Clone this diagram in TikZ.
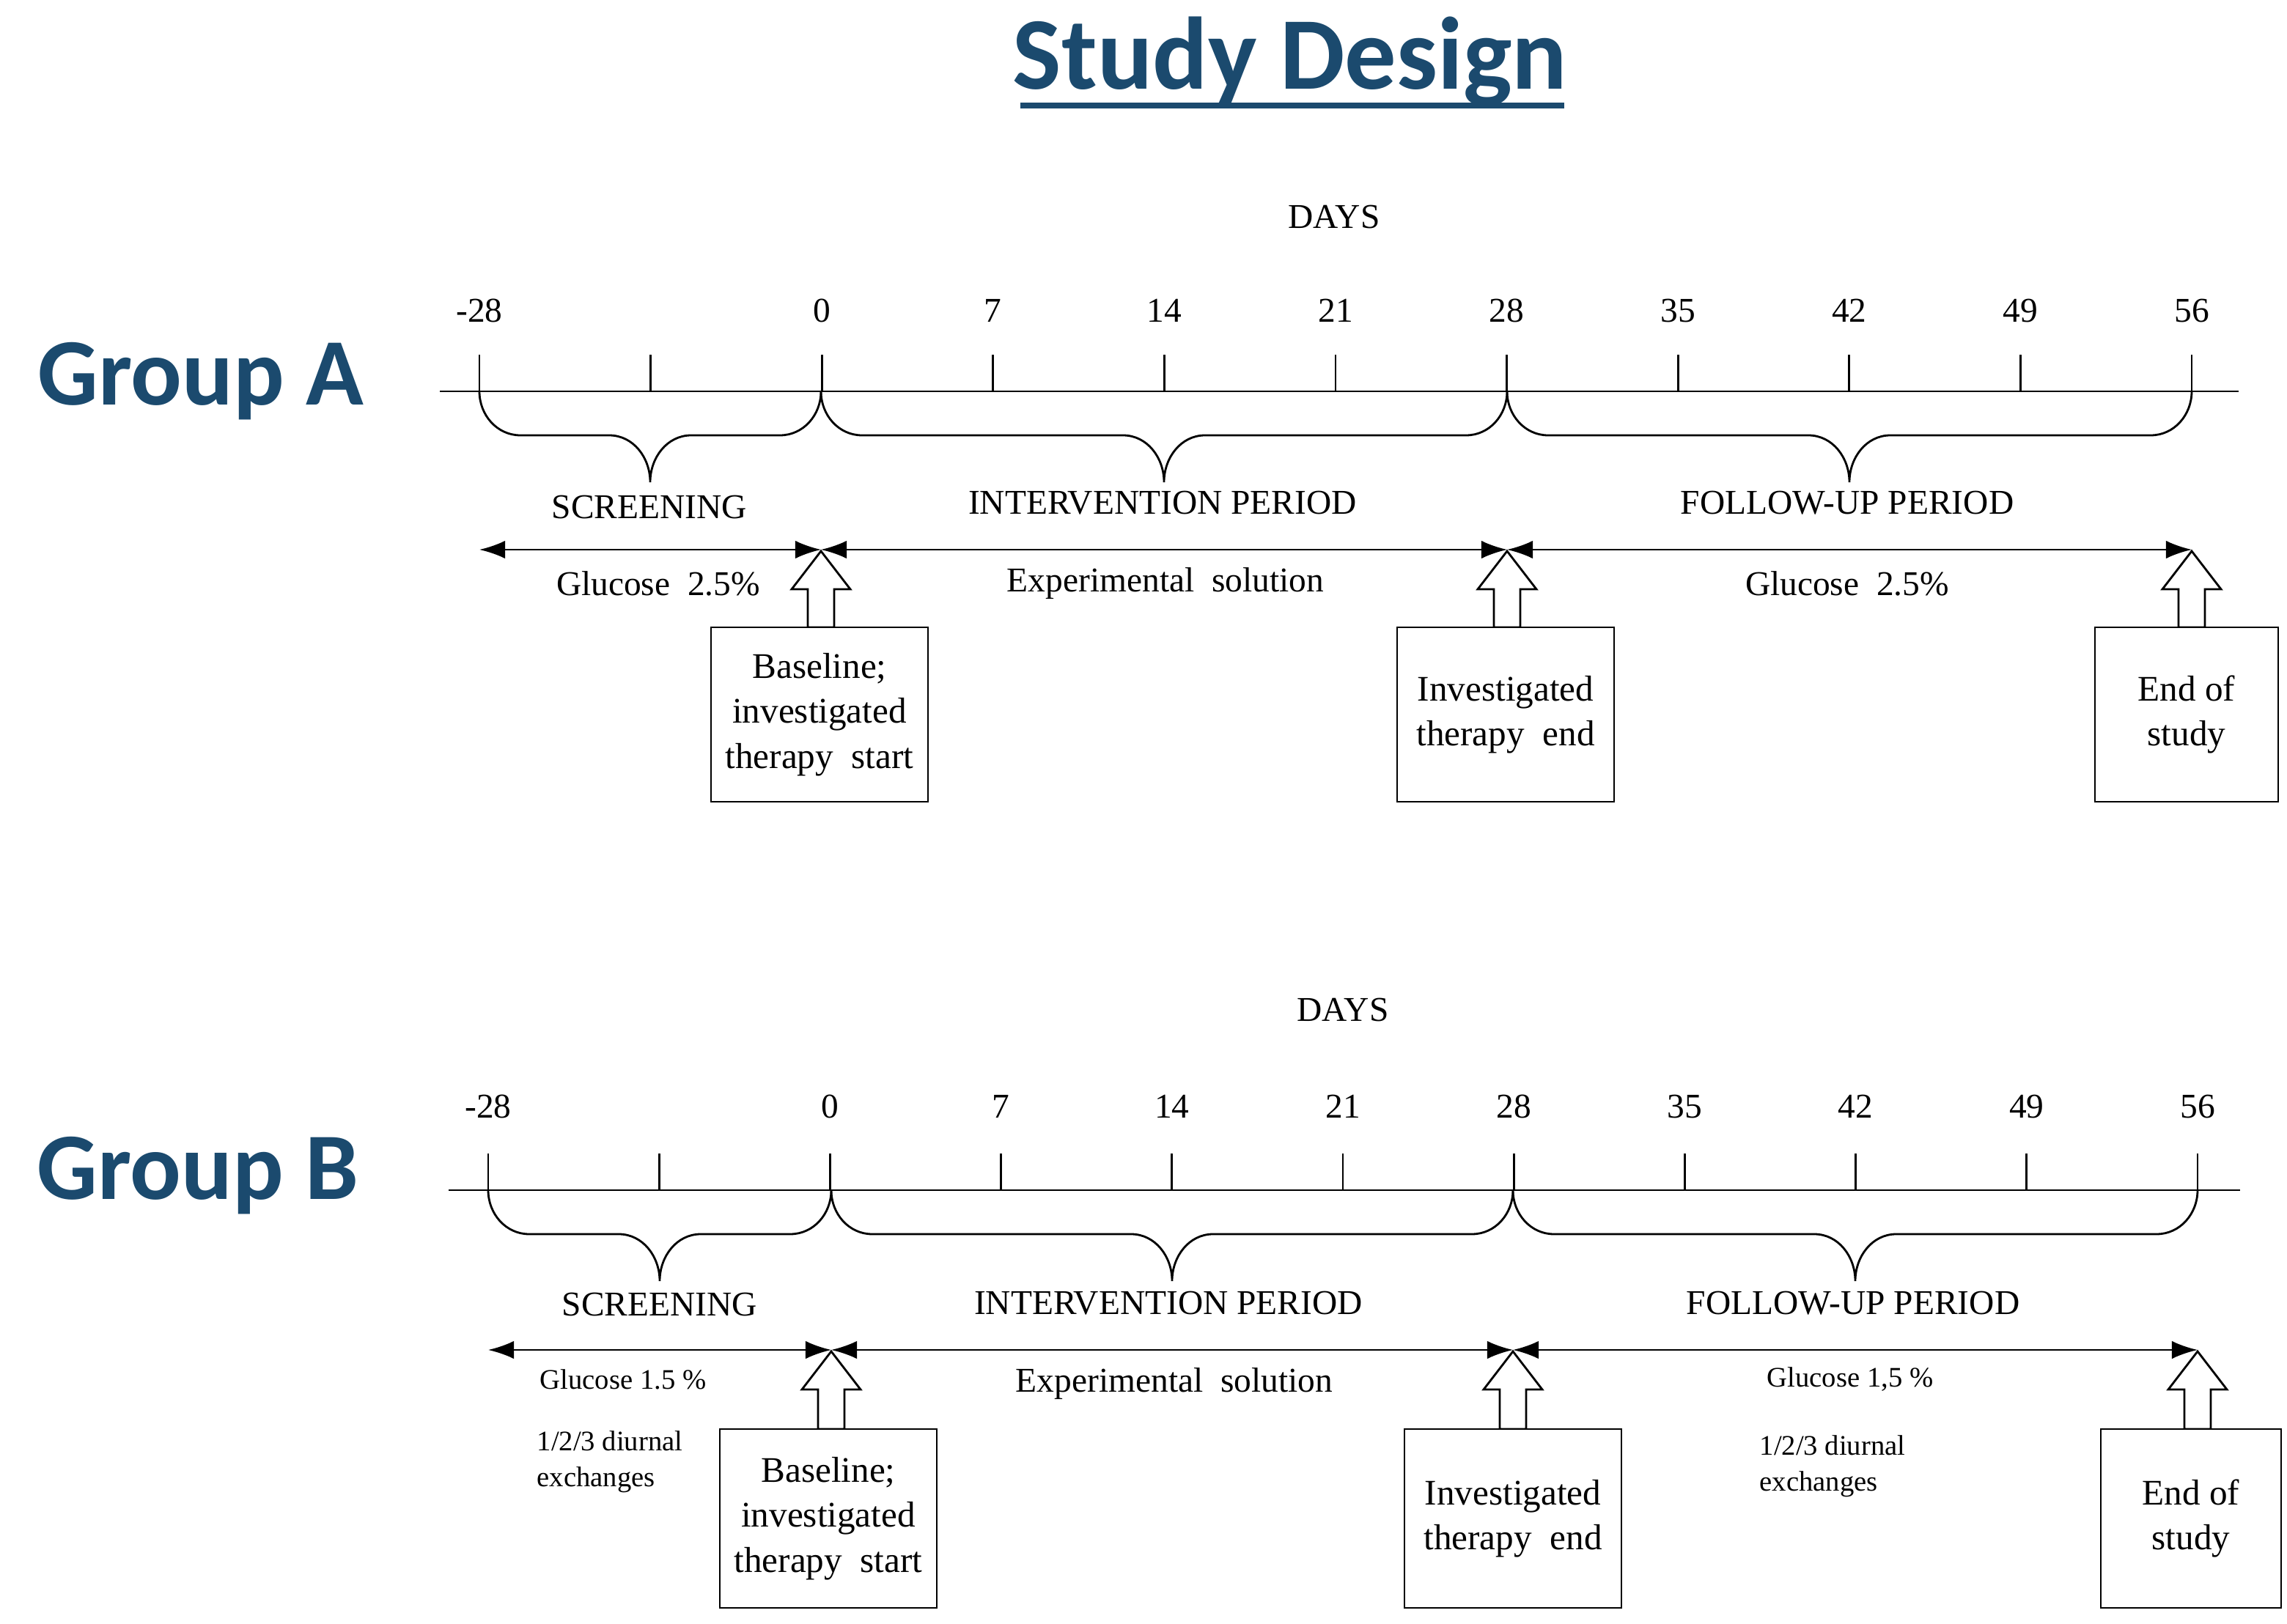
\documentclass[tikz,border=0pt]{standalone}
\usepackage{fontspec}
\setmainfont{Liberation Serif}
\newfontfamily\titlefont{Carlito}
\usetikzlibrary{arrows.meta}
\definecolor{titleblue}{HTML}{1B4A6E}
\tikzset{
  lbl/.style={font=\fontsize{13.5}{16}\selectfont, inner sep=0pt},
  small/.style={font=\fontsize{11}{13}\selectfont, inner sep=0pt},
  box/.style={draw, line width=0.8pt, fill=white, font=\fontsize{14}{17.5}\selectfont, align=center},
  dbl/.style={line width=0.8pt, {Latex[length=10pt,width=7pt]}-{Latex[length=10pt,width=7pt]}},
  hollow/.style={draw, line width=0.8pt, fill=white},
  grp/.style={font=\titlefont\bfseries\fontsize{37}{40}\selectfont, text=titleblue, inner sep=0pt},
  thin/.style={line width=0.8pt}
}
\newcommand{\mybrace}[3]{% x1, x2, yaxis
  \pgfmathsetmacro{\xm}{(#1+#2)/2}
  \draw[thin] (#1,#3) to[out=-90,in=180] (#1+28,#3+30) -- (\xm-28,#3+30)
    to[out=0,in=90] (\xm,#3+62) to[out=90,in=180] (\xm+28,#3+30)
    -- (#2-28,#3+30) to[out=0,in=-90] (#2,#3);}
\newcommand{\uparrowbox}[3]{% x, tip y, base y
  \draw[hollow] (#1,#2) -- (#1-20,#2+26) -- (#1-9,#2+26) -- (#1-9,#3) -- (#1+9,#3) -- (#1+9,#2+26) -- (#1+20,#2+26) -- cycle;}
\begin{document}
\begin{tikzpicture}[x=0.02cm,y=-0.02cm]
\useasboundingbox (0,0) rectangle (1560,1108);
\node[font=\titlefont\bfseries\fontsize{40}{44}\selectfont, text=titleblue, inner sep=0pt] (title) at (880,42) {Study Design};
\draw[titleblue, line width=2.2pt] (696,72) -- (1067,72);

% ---------- Group A ----------
\node[grp] (ga) at (137,260) {Group A};
\node[lbl] (daysA) at (910,148) {DAYS};
\draw[thin] (300,267) -- (1527,267);
\foreach \i/\t in {0/-28,1/,2/0,3/7,4/14,5/21,6/28,7/35,8/42,9/49,10/56}{
  \coordinate (a\i) at (327+116.8*\i,267);
  \draw[thin] (a\i) -- ++(0,-25);
  \node[lbl] at (327+116.8*\i,212) {\t};
}
\mybrace{327}{560}{267}
\mybrace{560}{1028}{267}
\mybrace{1028}{1495}{267}
\node[lbl] (scrA) at (443,346) {SCREENING};
\node[lbl] (intA) at (793,343) {INTERVENTION PERIOD};
\node[lbl] (fupA) at (1260,343) {FOLLOW-UP PERIOD};
\coordinate (ea0) at (327,375); \coordinate (ea1) at (560,375);
\coordinate (ea2) at (1028,375); \coordinate (ea3) at (1495,375);
\draw[dbl] (ea0) -- (ea1);
\draw[dbl] (ea1) -- (ea2);
\draw[dbl] (ea2) -- (ea3);
\node[lbl] at (449,398) {Glucose\ \ 2.5\%};
\node[lbl] at (795,398) {Experimental\ \ solution};
\node[lbl] at (1260,398) {Glucose\ \ 2.5\%};
\uparrowbox{560}{376}{428}
\uparrowbox{1028}{376}{428}
\uparrowbox{1495}{376}{428}
\node[box, minimum width=148*0.02cm, minimum height=119*0.02cm] (bA1) at (559,487.5) {Baseline;\\investigated\\therapy\ \ start};
\node[box, minimum width=148*0.02cm, minimum height=119*0.02cm] (bA2) at (1027,487.5) {Investigated\\therapy\ \ end};
\node[box, minimum width=125*0.02cm, minimum height=119*0.02cm] (bA3) at (1491.5,487.5) {End\ of\\study};

% ---------- Group B ----------
\node[grp] (gb) at (135,802) {Group B};
\node[lbl] (daysB) at (916,689) {DAYS};
\draw[thin] (306,812) -- (1528,812);
\foreach \i/\t in {0/-28,1/,2/0,3/7,4/14,5/21,6/28,7/35,8/42,9/49,10/56}{
  \coordinate (b\i) at (333+116.6*\i,812);
  \draw[thin] (b\i) -- ++(0,-25);
  \node[lbl] at (333+116.6*\i,755) {\t};
}
\mybrace{333}{567}{812}
\mybrace{567}{1032}{812}
\mybrace{1032}{1499}{812}
\node[lbl] (scrB) at (450,890) {SCREENING};
\node[lbl] (intB) at (797,889) {INTERVENTION PERIOD};
\node[lbl] (fupB) at (1264,889) {FOLLOW-UP PERIOD};
\coordinate (eb0) at (333,921); \coordinate (eb1) at (567,921);
\coordinate (eb2) at (1032,921); \coordinate (eb3) at (1499,921);
\draw[dbl] (eb0) -- (eb1);
\draw[dbl] (eb1) -- (eb2);
\draw[dbl] (eb2) -- (eb3);
\node[small] at (425,941) {Glucose 1.5 \%};
\node[small, align=left, anchor=north west] at (366,976) {1/2/3 diurnal\\[1pt]exchanges};
\node[lbl] at (801,944) {Experimental\ \ solution};
\node[small] at (1262,941) {Glucose 1,5 \%};
\node[small, align=left, anchor=north west] at (1200,979) {1/2/3 diurnal\\[1pt]exchanges};
\uparrowbox{567}{922}{975}
\uparrowbox{1032}{922}{975}
\uparrowbox{1499}{922}{975}
\node[box, minimum width=148*0.02cm, minimum height=122*0.02cm] (bB1) at (565,1036) {Baseline;\\investigated\\therapy\ \ start};
\node[box, minimum width=148*0.02cm, minimum height=122*0.02cm] (bB2) at (1032,1036) {Investigated\\therapy\ \ end};
\node[box, minimum width=123*0.02cm, minimum height=122*0.02cm] (bB3) at (1494.5,1036) {End\ of\\study};
\end{tikzpicture}
\end{document}
